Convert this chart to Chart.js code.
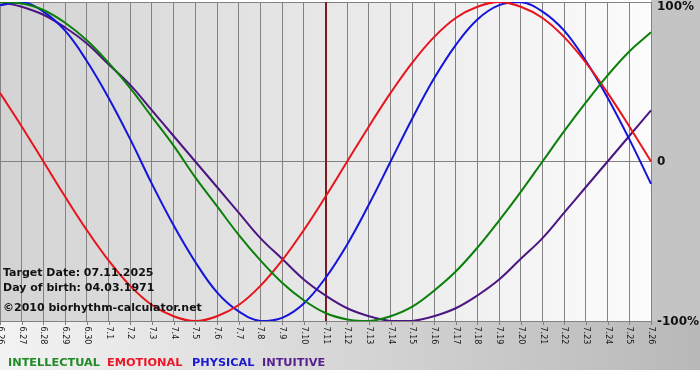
<!DOCTYPE html>
<html>
<head>
<meta charset="utf-8">
<script src="https://cdn.jsdelivr.net/npm/chart.js@4"></script>
<style>
html,body{margin:0;padding:0;background:#fff;}
#wrap{width:700px;height:380px;position:relative;}
</style>
</head>
<body>
<div id="wrap"><canvas id="c" width="700" height="380"></canvas></div>
<script>
// ---- data ----
const dayLabels = ["6.26","6.27","6.28","6.29","6.30","7.1","7.2","7.3","7.4","7.5","7.6","7.7","7.8","7.9","7.10","7.11","7.12","7.13","7.14","7.15","7.16","7.17","7.18","7.19","7.20","7.21","7.22","7.23","7.24","7.25","7.26"];
const intellectual = [100,99,95,87,76,62,46,28,10,-10,-28,-46,-62,-76,-87,-95,-99,-100,-97,-91,-81,-69,-54,-37,-19,0,19,37,54,69,81];
const emotional = [43,22,0,-22,-43,-62,-78,-90,-97,-100,-97,-90,-78,-62,-43,-22,0,22,43,62,78,90,97,100,97,90,78,62,43,22,0];
const physical = [98,100,94,82,63,40,14,-14,-40,-63,-82,-94,-100,-98,-89,-73,-52,-27,0,27,52,73,89,98,100,94,82,63,40,14,-14];
const intuitive = [100,97,92,84,74,61,48,32,16,0,-16,-32,-48,-61,-74,-84,-92,-97,-100,-100,-97,-92,-84,-74,-61,-48,-32,-16,0,16,32];
const yTickLabels = ["100%","0","-100%"];
const yTickValues = [100,0,-100];
const targetLabel = "7.11";
const infoLines = ["Target Date: 07.11.2025","Day of birth: 04.03.1971","©2010 biorhythm-calculator.net"];
const legendNames = ["INTELLECTUAL","EMOTIONAL","PHYSICAL","INTUITIVE"];

const lineColors = ["#0a800a","#e8141c","#1414dc","#4b1682"];
const legendColors = ["#1f8a26","#ee1626","#1a1ad2","#58208e"];

const bgPlugin = {
  id:'bg',
  beforeDraw(chart){
    const ctx = chart.ctx, a = chart.chartArea;
    ctx.save();
    ctx.fillStyle = '#ffffff';
    ctx.fillRect(0,0,700,380);
    let g = ctx.createLinearGradient(0,0,700,0);
    g.addColorStop(0,'#f3f3f3');
    g.addColorStop(1,'#b8b8b8');
    ctx.fillStyle = g;
    ctx.fillRect(0,a.bottom,700,370-a.bottom);
    ctx.fillStyle = '#c4c4c4';
    ctx.fillRect(a.right,0,700-a.right,a.bottom);
    g = ctx.createLinearGradient(a.left,0,a.right,0);
    g.addColorStop(0,'#d3d3d3');
    g.addColorStop(1,'#fcfcfc');
    ctx.fillStyle = g;
    ctx.fillRect(a.left,a.top,a.right-a.left,a.bottom-a.top);
    ctx.restore();
  },
  beforeDatasetsDraw(chart){
    const ctx = chart.ctx, a = chart.chartArea, xs = chart.scales.x;
    const idx = dayLabels.indexOf(targetLabel);
    const x = Math.round(xs.getPixelForValue(idx));
    ctx.save();
    ctx.strokeStyle = '#7a1c20';
    ctx.lineWidth = 2;
    ctx.beginPath();
    ctx.moveTo(x, a.top);
    ctx.lineTo(x, a.bottom);
    ctx.stroke();
    ctx.restore();
  },
  afterDraw(chart){
    const ctx = chart.ctx, a = chart.chartArea, xs = chart.scales.x, ys = chart.scales.y;
    ctx.save();
    ctx.strokeStyle = '#808080';
    ctx.lineWidth = 1;
    ctx.fillStyle = '#161616';
    ctx.font = '8px "DejaVu Sans"';
    ctx.textAlign = 'left';
    ctx.textBaseline = 'middle';
    dayLabels.forEach((lab,i)=>{
      const x = Math.round(xs.getPixelForValue(i)) + 0.5;
      ctx.beginPath();
      ctx.moveTo(x, a.bottom);
      ctx.lineTo(x, a.bottom+4);
      ctx.stroke();
      ctx.save();
      ctx.translate(x, a.bottom+5.5);
      ctx.rotate(Math.PI/2);
      ctx.fillText(lab, 0, 0);
      ctx.restore();
    });
    ctx.font = 'bold 12px "DejaVu Sans"';
    ctx.fillStyle = '#111';
    ctx.textBaseline = 'middle';
    yTickLabels.forEach((lab,i)=>{
      const y = ys.getPixelForValue(yTickValues[i]);
      let yy = y;
      if (i===0) yy = y+5;
      if (i===2) yy = y+1;
      ctx.fillText(lab, a.right+6, yy);
    });
    ctx.textBaseline = 'alphabetic';
    ctx.font = 'bold 11px "DejaVu Sans"';
    ctx.fillText(infoLines[0], 3, 276);
    ctx.fillText(infoLines[1], 3, 291);
    ctx.fillText(infoLines[2], 3, 311);
    ctx.font = 'bold 11.3px "DejaVu Sans"';
    const lx = [8,107,192,262];
    legendNames.forEach((n,i)=>{
      ctx.fillStyle = legendColors[i];
      ctx.fillText(n, lx[i], 366);
    });
    ctx.restore();
  }
};

const mk = (label, data, color) => ({
  label, data, borderColor: color, borderWidth: 2, pointRadius: 0, tension: 0.4, fill: false
});

new Chart(document.getElementById('c'), {
  type: 'line',
  data: {
    labels: dayLabels,
    datasets: [
      mk(legendNames[0], intellectual, lineColors[0]),
      mk(legendNames[1], emotional, lineColors[1]),
      mk(legendNames[2], physical, lineColors[2]),
      mk(legendNames[3], intuitive, lineColors[3])
    ]
  },
  options: {
    responsive: false,
    animation: false,
    devicePixelRatio: 1,
    layout: { padding: { left: 0, top: 2, right: 49, bottom: 59 } },
    plugins: { legend: { display: false }, tooltip: { enabled: false } },
    scales: {
      x: {
        offset: false,
        ticks: { display: false },
        grid: { color: '#828282', lineWidth: 1, drawTicks: false },
        border: { display: true, color: '#828282' }
      },
      y: {
        position: 'right',
        min: -100, max: 100,
        ticks: { display: false, stepSize: 100 },
        grid: { color: '#828282', lineWidth: 1, drawTicks: false },
        border: { display: true, color: '#828282' }
      }
    }
  },
  plugins: [bgPlugin]
});
</script>
</body>
</html>
